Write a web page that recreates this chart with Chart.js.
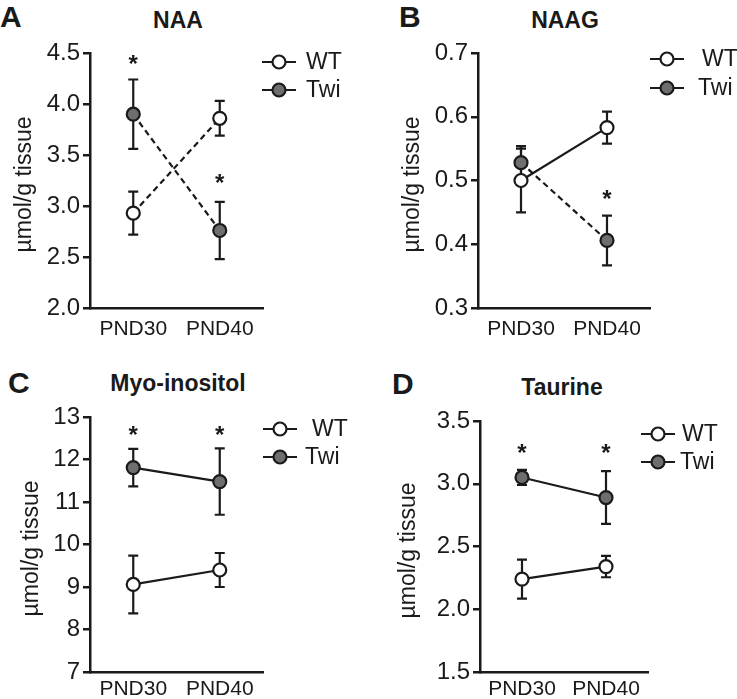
<!DOCTYPE html>
<html>
<head>
<meta charset="utf-8">
<script src="https://cdn.jsdelivr.net/npm/chart.js@4"></script>
<style>
  html, body { margin:0; padding:0; background:#fff; }
  body { width:737px; height:699px; position:relative; overflow:hidden; font-family:"Liberation Sans", Arial, sans-serif; color:#1a1a1a; }
  .cv { position:absolute; }
  .lbl { position:absolute; font-weight:bold; line-height:1; white-space:nowrap; }
  .letter { font-size:30px; }
  .title { font-size:23px; transform:translate(-50%,-50%); }
</style>
</head>
<body>
<div class="lbl letter" style="left:0px;top:2px;">A</div>
<div class="lbl letter" style="left:399px;top:2px;">B</div>
<div class="lbl letter" style="left:8px;top:368px;">C</div>
<div class="lbl letter" style="left:392px;top:369px;">D</div>
<div class="lbl title" style="left:178px;top:20px;">NAA</div>
<div class="lbl title" style="left:565px;top:20px;">NAAG</div>
<div class="lbl title" style="left:178px;top:383px;">Myo-inositol</div>
<div class="lbl title" style="left:562px;top:387px;">Taurine</div>

<div class="cv" style="left:0px;top:0px;width:368px;height:345px;"><canvas id="cA"></canvas></div>
<div class="cv" style="left:368px;top:0px;width:369px;height:345px;"><canvas id="cB"></canvas></div>
<div class="cv" style="left:0px;top:345px;width:368px;height:354px;"><canvas id="cC"></canvas></div>
<div class="cv" style="left:368px;top:345px;width:369px;height:354px;"><canvas id="cD"></canvas></div>

<script>
// ---------- data ----------
const categories = ['PND30', 'PND40'];
const seriesNames = ['WT', 'Twi'];
const yAxisTitle = 'µmol/g tissue';

// NAA
const naaWT = [2.93, 3.86];
const naaWTErr = [0.21, 0.17];
const naaTwi = [3.90, 2.76];
const naaTwiErr = [0.34, 0.28];
const naaStars = [4.45, 3.28];
const naaAxis = [2.0, 4.5, 0.5];

// NAAG
const naagWT = [0.500, 0.583];
const naagWTErr = [0.050, 0.025];
const naagTwi = [0.528, 0.406];
const naagTwiErr = [0.026, 0.039];
const naagStars = [null, 0.48];
const naagAxis = [0.3, 0.7, 0.1];

// Myo-inositol
const myoWT = [9.06, 9.40];
const myoWTErr = [0.68, 0.40];
const myoTwi = [11.81, 11.48];
const myoTwiErr = [0.44, 0.78];
const myoStars = [12.72, 12.72];
const myoAxis = [7, 13, 1];

// Taurine
const tauWT = [2.24, 2.34];
const tauWTErr = [0.155, 0.085];
const tauTwi = [3.05, 2.89];
const tauTwiErr = [0.06, 0.21];
const tauStars = [3.29, 3.29];
const tauAxis = [1.5, 3.5, 0.5];

// ---------- drawing ----------
const INK = '#1a1a1a';
const TWI_FILL = '#6e6e6e';
const FONT = '"Liberation Sans", Arial, sans-serif';

const panelPlugin = {
  id: 'panelExtras',
  beforeDatasetsDraw(chart) {
    const o = chart.options.plugins.panelExtras;
    const ctx = chart.ctx, x = chart.scales.x, y = chart.scales.y;
    ctx.save();
    ctx.strokeStyle = INK; ctx.lineWidth = 2.2;
    [o.wtErr, o.twiErr].forEach((errs, di) => {
      const vals = chart.data.datasets[di].data;
      errs.forEach((e, i) => {
        const px = x.getPixelForValue(i);
        const top = y.getPixelForValue(vals[i] + e);
        const bot = y.getPixelForValue(vals[i] - e);
        ctx.beginPath();
        ctx.moveTo(px, top); ctx.lineTo(px, bot);
        ctx.moveTo(px - 5, top); ctx.lineTo(px + 5, top);
        ctx.moveTo(px - 5, bot); ctx.lineTo(px + 5, bot);
        ctx.stroke();
      });
    });
    ctx.restore();
  },
  afterDraw(chart) {
    const o = chart.options.plugins.panelExtras;
    const ctx = chart.ctx, x = chart.scales.x, y = chart.scales.y;
    ctx.save();
    // stars
    ctx.fillStyle = INK;
    ctx.font = 'bold 24px ' + FONT;
    ctx.textAlign = 'center';
    ctx.textBaseline = 'alphabetic';
    o.stars.forEach((v, i) => {
      if (v === null) return;
      ctx.fillText('*', x.getPixelForValue(i), y.getPixelForValue(v) + 0.57 * 24);
    });
    // y axis title
    ctx.save();
    ctx.translate(o.titleX, (chart.chartArea.top + chart.chartArea.bottom) / 2 + 4);
    ctx.rotate(-Math.PI / 2);
    ctx.font = '23px ' + FONT;
    ctx.textAlign = 'center';
    ctx.textBaseline = 'middle';
    ctx.fillText(yAxisTitle, 0, 0);
    ctx.restore();
    // legend
    const L = o.legend;
    const fills = ['#ffffff', TWI_FILL];
    [L.y1, L.y2].forEach((ly, k) => {
      ctx.strokeStyle = INK; ctx.lineWidth = 2.2;
      ctx.beginPath();
      ctx.moveTo(L.mx - 17, ly); ctx.lineTo(L.mx - 7, ly);
      ctx.moveTo(L.mx + 7, ly); ctx.lineTo(L.mx + 17, ly);
      ctx.stroke();
      ctx.beginPath();
      ctx.arc(L.mx, ly, 6.5, 0, Math.PI * 2);
      ctx.fillStyle = fills[k]; ctx.fill(); ctx.stroke();
      ctx.fillStyle = INK;
      ctx.font = '23px ' + FONT;
      ctx.textAlign = 'left';
      ctx.textBaseline = 'middle';
      ctx.fillText(seriesNames[k], L.tx[k], ly + 1);
    });
    ctx.restore();
  }
};

function makePanel(id, wt, wtErr, twi, twiErr, stars, axis, dashes, geo) {
  const decimals = axis[2] < 1 ? 1 : 0;
  new Chart(document.getElementById(id), {
    type: 'line',
    data: {
      labels: categories,
      datasets: [
        { label: seriesNames[0], data: wt, borderColor: INK, borderWidth: 2.2, borderDash: dashes[0],
          pointRadius: 6.5, pointHoverRadius: 6.5, pointBackgroundColor: '#ffffff', pointBorderColor: INK, pointBorderWidth: 2.2, tension: 0 },
        { label: seriesNames[1], data: twi, borderColor: INK, borderWidth: 2.2, borderDash: dashes[1],
          pointRadius: 6.5, pointHoverRadius: 6.5, pointBackgroundColor: TWI_FILL, pointBorderColor: INK, pointBorderWidth: 2.2, tension: 0 }
      ]
    },
    options: {
      responsive: true,
      maintainAspectRatio: false,
      animation: false,
      events: [],
      layout: { padding: { top: geo.top, right: geo.right, left: 0, bottom: 0 } },
      plugins: {
        legend: { display: false },
        tooltip: { enabled: false },
        title: { display: false },
        panelExtras: { wtErr: wtErr, twiErr: twiErr, stars: stars, titleX: geo.titleX, legend: geo.legend }
      },
      scales: {
        x: {
          type: 'category',
          offset: true,
          grid: { display: false, drawTicks: false },
          border: { display: true, color: INK, width: 2.5 },
          ticks: { color: INK, font: { family: FONT, size: 21 }, padding: geo.xpad, maxRotation: 0 },
          afterFit: s => { s.height = geo.xh; }
        },
        y: {
          min: axis[0], max: axis[1],
          grid: { drawOnChartArea: false, drawTicks: true, tickLength: 7, color: INK, lineWidth: 2.5 },
          border: { display: true, color: INK, width: 2.5 },
          ticks: { stepSize: axis[2], color: INK, font: { family: FONT, size: 24 }, padding: 3,
                   callback: v => Number(v).toFixed(decimals) },
          afterFit: s => { s.width = geo.yw; }
        }
      }
    },
    plugins: [panelPlugin]
  });
}

const dash = [6, 4];
makePanel('cA', naaWT, naaWTErr, naaTwi, naaTwiErr, naaStars, naaAxis, [dash, dash],
  { top: 53, right: 105, yw: 90, xh: 37, xpad: 9, titleX: 25,
    legend: { mx: 279, tx: [306, 306], y1: 62, y2: 90 } });
makePanel('cB', naagWT, naagWTErr, naagTwi, naagTwiErr, naagStars, naagAxis, [[], dash],
  { top: 53, right: 87, yw: 110, xh: 37, xpad: 9, titleX: 45,
    legend: { mx: 299, tx: [334, 330], y1: 59, y2: 88 } });
makePanel('cC', myoWT, myoWTErr, myoTwi, myoTwiErr, myoStars, myoAxis, [[], []],
  { top: 72, right: 105, yw: 90, xh: 27, xpad: 5, titleX: 32,
    legend: { mx: 280, tx: [312, 305], y1: 84, y2: 112 } });
makePanel('cD', tauWT, tauWTErr, tauTwi, tauTwiErr, tauStars, tauAxis, [[], []],
  { top: 76, right: 89, yw: 112, xh: 27, xpad: 5, titleX: 41,
    legend: { mx: 290, tx: [314, 312], y1: 89, y2: 117 } });
</script>
</body>
</html>
